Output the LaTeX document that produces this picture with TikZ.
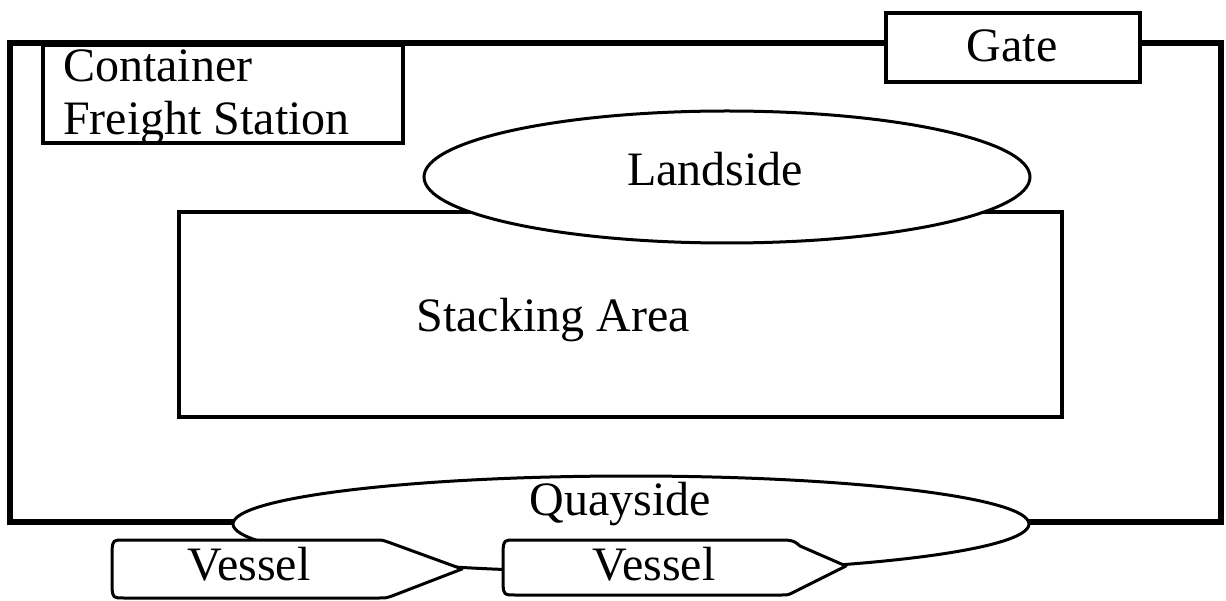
\documentclass[tikz,border=0pt]{standalone}
\usepackage{fontspec}
\setmainfont{Liberation Serif}
\begin{document}
\begin{tikzpicture}[x=1pt,y=-1pt,
  lbl/.style={font=\fontsize{48}{53}\selectfont, inner sep=0pt, anchor=base},
  thick frame/.style={line width=6pt, line join=miter},
  thin box/.style={line width=3.2pt, fill=white},
  oval/.style={line width=3pt, fill=white},
  ship/.style={line width=3pt, fill=white, line join=round}]
\useasboundingbox (0,0) rectangle (1226,601);
% terminal boundary
\draw[thick frame] (10,43) rectangle (1221,522);
% container freight station
\draw[thin box] (43,45) rectangle (403,143);
% gate
\draw[thin box] (886,13) rectangle (1140,82);
% stacking area
\draw[thin box] (179,212) rectangle (1062,417);
% landside
\draw[oval] (727,177) ellipse [x radius=303, y radius=66];
% quayside
\draw[oval] (631,524) ellipse [x radius=398, y radius=48];
% vessels
\draw[ship] (462,569) -- (388,542) .. controls (382,540) .. (374,540) -- (124,540)
  .. controls (113,540) .. (112,550) -- (112,588) .. controls (113,598) .. (124,598)
  -- (378,598) .. controls (386,598) .. (392,596) -- cycle;
\draw[ship] (846,566) -- (800,546) .. controls (794,541) .. (786,540) -- (515,540)
  .. controls (504,540) .. (503,550) -- (503,585) .. controls (504,595) .. (515,595)
  -- (782,595) .. controls (788,595) .. (794,592) -- cycle;
% labels
\node[lbl, anchor=base west] (cfs1) at (63,82) {Container};
\node[lbl, anchor=base west] (cfs2) at (63,135) {Freight Station};
\node[lbl] (gate) at (1012,62) {Gate};
\node[lbl] (land) at (715,186) {Landside};
\node[lbl] (stack) at (553,332) {Stacking Area};
\node[lbl] (quay) at (620,515) {Quayside};
\node[lbl] (v1) at (249,580) {Vessel};
\node[lbl] (v2) at (654,580) {Vessel};
\end{tikzpicture}
\end{document}
